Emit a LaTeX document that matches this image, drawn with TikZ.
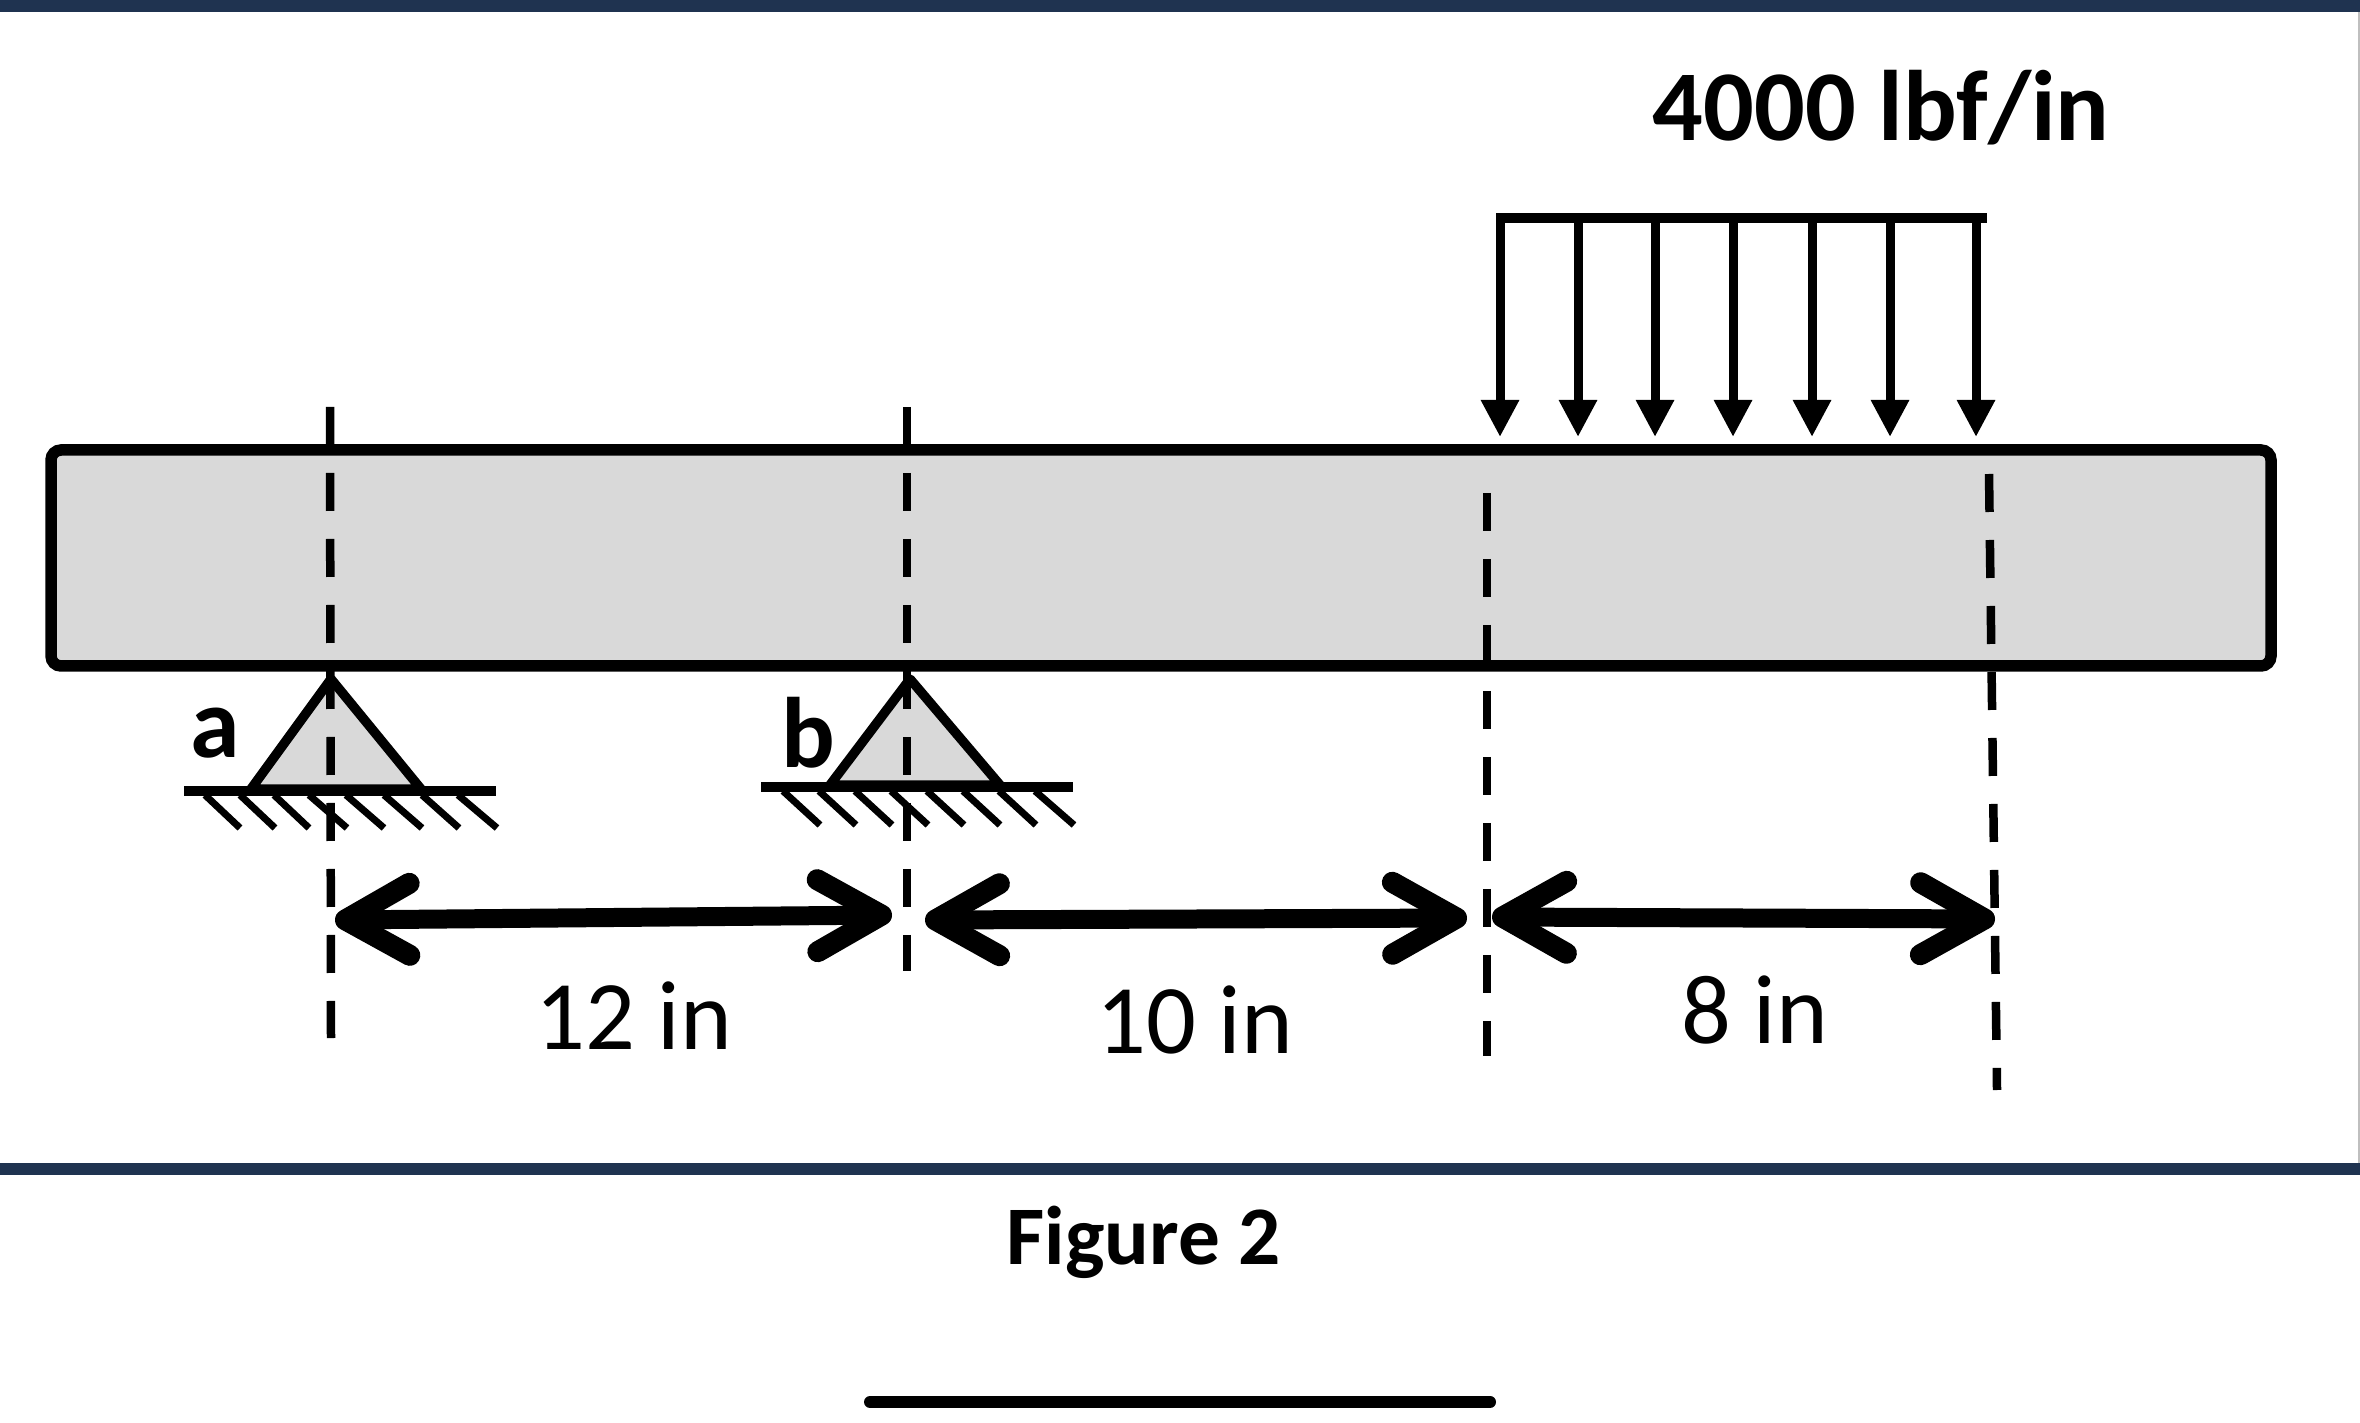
\documentclass[tikz,border=0pt]{standalone}
\usepackage{fontspec}
\setmainfont{Carlito}
\usetikzlibrary{positioning,arrows.meta}
\definecolor{barblue}{HTML}{1F3350}
\definecolor{beamgray}{HTML}{D9D9D9}
\tikzset{
  beambox/.style={draw,fill=beamgray,line width=1.15mm,rounded corners=1mm,inner sep=0pt,minimum width=22.2cm,minimum height=2.16cm},
  support/.style={draw,fill=beamgray,line width=.95mm,line join=round},
  ground/.style={draw,line width=1mm},
  hatch/.style={draw,line width=.7mm},
  centerline/.style={draw,line width=.85mm,dash pattern=on 3.8mm off 2.8mm},
  loadline/.style={draw,line width=.95mm},
  loadarrow/.style={draw,line width=.9mm,-{Triangle[length=3.7mm,width=3.6mm]}},
  dimarrow/.style={draw,line width=1.9mm,{Straight Barb[length=6.4mm,width=7.2mm,round,line width=2.1mm]}-{Straight Barb[length=6.4mm,width=7.2mm,round,line width=2.1mm]}},
  bigbold/.style={font=\fontsize{28.5}{30}\selectfont\bfseries,inner sep=0pt},
  dimlabel/.style={font=\fontsize{28}{30}\selectfont,inner sep=0pt},
  caption/.style={font=\fontsize{23.7}{30}\selectfont\bfseries,inner sep=0pt},
  bar/.style={fill=barblue}
}
\begin{document}
\begin{tikzpicture}[x=.1mm,y=-.1mm]
\useasboundingbox(0,0)rectangle(2360,1423);
\path[fill=white](0,0)rectangle(2360,1423);
% frame bars
\path[bar](0,0)rectangle(2360,12);
\path[bar](0,1163)rectangle(2360,1175);
\path[draw=black!25,line width=.2mm](2359,12)--(2359,1163);
\path[draw,line width=1.2mm,line cap=round](870,1402)--(1490,1402);
% beam
\node[beambox](beam) at (1161,558){};
% supports
\path[support](331,679)--(251,789)--(421,789)--cycle;
\path[support](910,679)--(830,785)--(1000,785)--cycle;
\path[ground](184,791)--(496,791);
\path[ground](761,787)--(1073,787);
\path[hatch](205,795)--(240,828);
\path[hatch](240,795)--(275,828);
\path[hatch](274,795)--(309,828);
\path[hatch](309,795)--(347,828);
\path[hatch](346,795)--(384,828);
\path[hatch](384,795)--(422,828);
\path[hatch](422,795)--(459,828);
\path[hatch](458,795)--(497,828);
\path[hatch](783,791)--(820,825);
\path[hatch](819,791)--(856,825);
\path[hatch](855,791)--(892,825);
\path[hatch](891,791)--(928,825);
\path[hatch](927,791)--(964,825);
\path[hatch](963,791)--(1000,825);
\path[hatch](999,791)--(1036,825);
\path[hatch](1035,791)--(1074,825);
% center lines
\coordinate(atop) at (330,407);
\coordinate(abot) at (331,1038);
\coordinate(btop) at (907,407);
\coordinate(bbot) at (907,971);
\coordinate(ctop) at (1487,493);
\coordinate(cbot) at (1487,1056);
\coordinate(dtop) at (1989,474);
\coordinate(dbot) at (1997,1090);
\path[centerline](atop)--(abot);
\path[centerline](btop)--(bbot);
\path[centerline](ctop)--(cbot);
\path[centerline](dtop)--(dbot);
% distributed load
\coordinate(l0) at (1496,218);
\coordinate(l8) at (1987,218);
\coordinate(l1) at (1500,218);
\coordinate(l2) at (1578,218);
\coordinate(l3) at (1655,218);
\coordinate(l4) at (1733,218);
\coordinate(l5) at (1812,218);
\coordinate(l6) at (1890,218);
\coordinate(l7) at (1976,218);
\coordinate(t1) at (1500,437);
\coordinate(t2) at (1578,437);
\coordinate(t3) at (1655,437);
\coordinate(t4) at (1733,437);
\coordinate(t5) at (1812,437);
\coordinate(t6) at (1890,437);
\coordinate(t7) at (1976,437);
\path[loadline](l0)--(l8);
\path[loadarrow](l1)--(t1);
\path[loadarrow](l2)--(t2);
\path[loadarrow](l3)--(t3);
\path[loadarrow](l4)--(t4);
\path[loadarrow](l5)--(t5);
\path[loadarrow](l6)--(t6);
\path[loadarrow](l7)--(t7);
% dimensions
\coordinate(d1) at (335,920);
\coordinate(d2) at (892,915);
\coordinate(d3) at (925,920);
\coordinate(d4) at (1467,918);
\coordinate(d5) at (1492,917);
\coordinate(d6) at (1995,919);
\path[dimarrow](d1)--(d2);
\path[dimarrow](d3)--(d4);
\path[dimarrow](d5)--(d6);
% labels
\node[bigbold](load) at (1881,108){4000 lbf/in};
\node[bigbold](labela) at (215,733){a};
\node[bigbold](labelb) at (808,733){b};
\node[dimlabel](dim12) at (634,1016){12 in};
\node[dimlabel](dim10) at (1195,1020){10 in};
\node[dimlabel](dim8) at (1755,1010){8 in};
\node[caption](fig) at (1144,1242){Figure 2};
\end{tikzpicture}
\end{document}
